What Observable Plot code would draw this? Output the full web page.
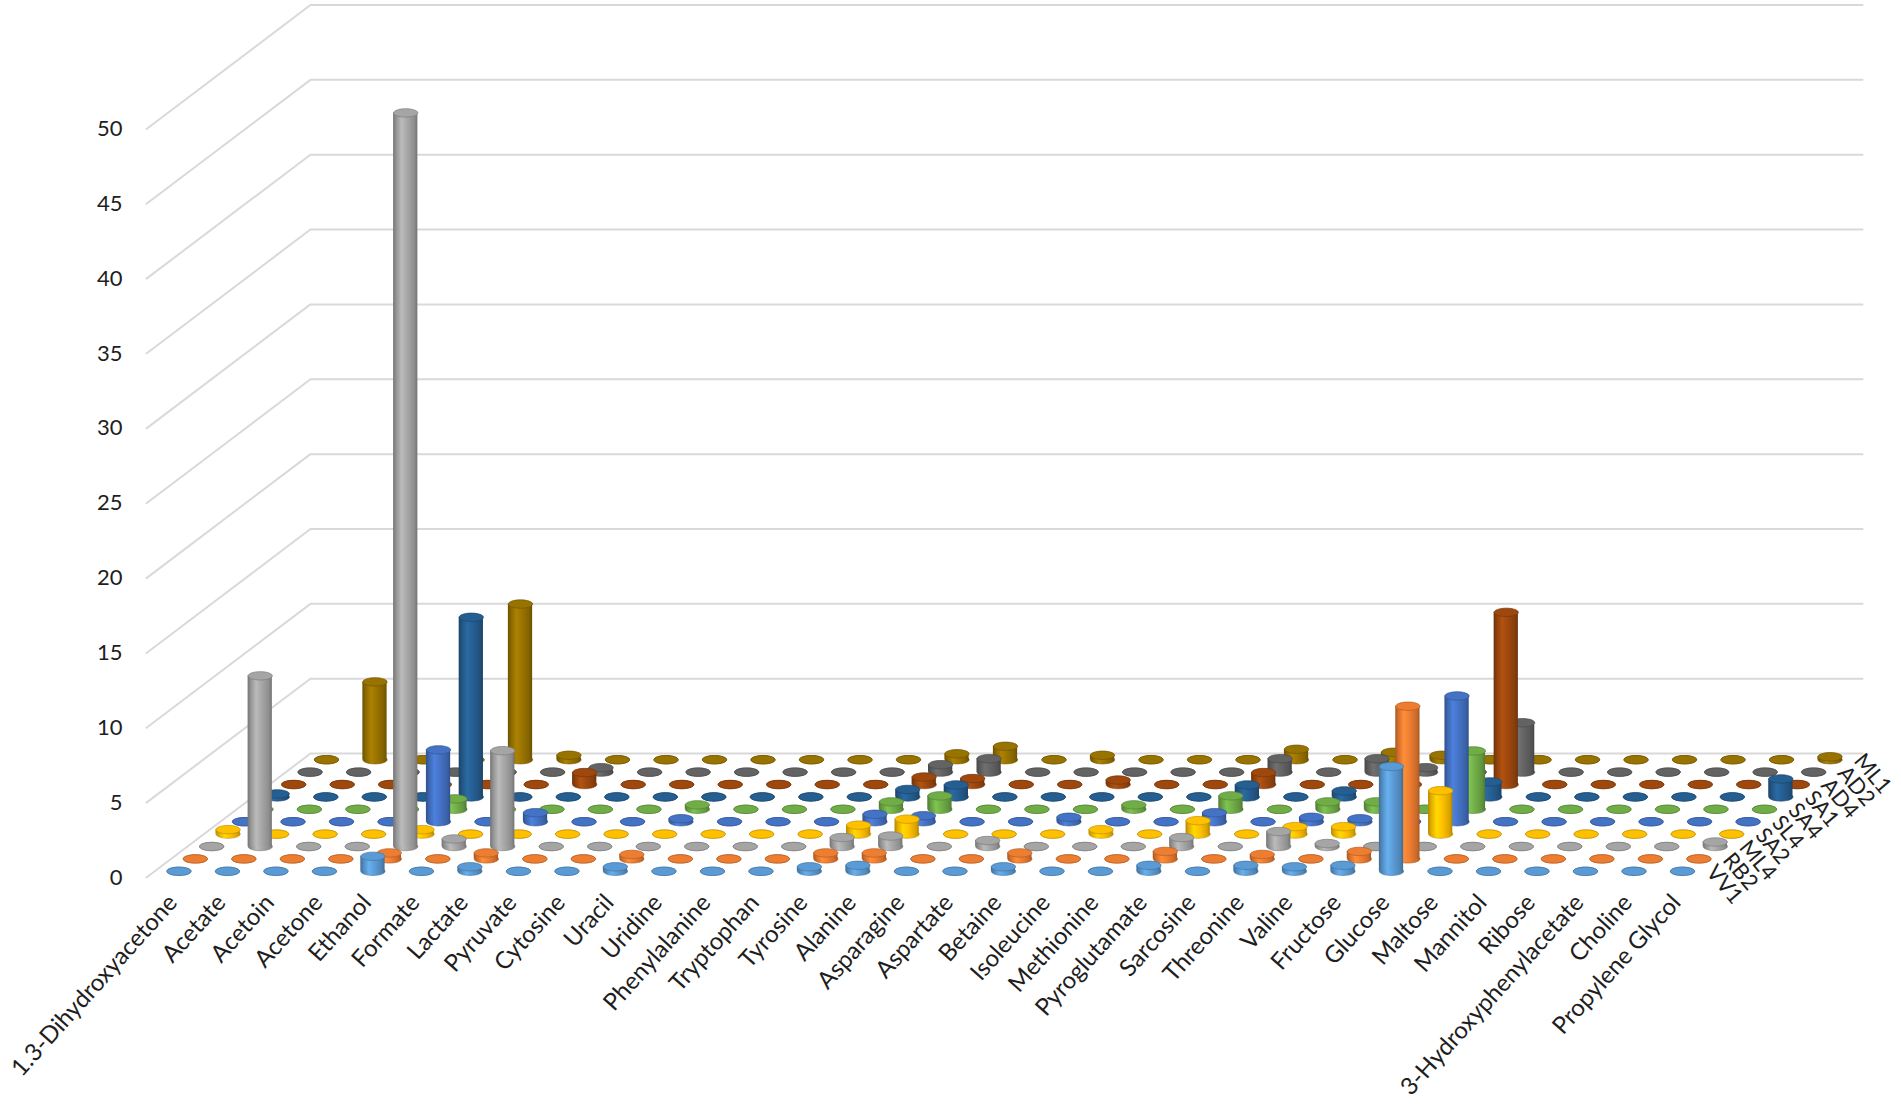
<!DOCTYPE html>
<html><head><meta charset="utf-8">
<script src="https://cdn.jsdelivr.net/npm/d3@7"></script>
<script src="https://cdn.jsdelivr.net/npm/@observablehq/plot@0.6"></script>
<style>
html,body{margin:0;padding:0;background:#fff;}
#chart{width:1901px;height:1114px;overflow:hidden;}
</style></head>
<body><div id="chart"></div>
<script>
// ---------------- data ----------------
const categories = ["1.3-Dihydroxyacetone","Acetate","Acetoin","Acetone","Ethanol","Formate","Lactate","Pyruvate","Cytosine","Uracil","Uridine","Phenylalanine","Tryptophan","Tyrosine","Alanine","Asparagine","Aspartate","Betaine","Isoleucine","Methionine","Pyroglutamate","Sarcosine","Threonine","Valine","Fructose","Glucose","Maltose","Mannitol","Ribose","3-Hydroxyphenylacetate","Choline","Propylene Glycol"];
const seriesNames = ["VV1","RB2","ML4","SA2","SL4","SA4","SA1","AD4","AD2","ML1"];
const seriesColors = ["#5B9BD5","#ED7D31","#A5A5A5","#FFC000","#4472C4","#70AD47","#255E91","#9E480E","#636363","#997300"];
const yTicks = [0,5,10,15,20,25,30,35,40,45,50];

const VV1 = [0,0,0,0,1.0,0,0.3,0,0,0.3,0,0,0,0.3,0.4,0,0,0.3,0,0,0.4,0,0.4,0.3,0.4,7.0,0,0,0,0,0,0];
const RB2 = [0,0,0,0,0.4,0,0.4,0,0,0.3,0,0,0,0.4,0.4,0,0,0.4,0,0,0.5,0,0.3,0,0.5,10.2,0,0,0,0,0,0];
const ML4 = [0,11.4,0,0,49.0,0.5,6.4,0,0,0,0,0,0,0.6,0.7,0,0.4,0,0,0,0.6,0,1.0,0.2,0,0,0,0,0,0,0,0.3];
const SA2 = [0.3,0,0,0,0.3,0,0,0,0,0,0,0,0,0.6,1.0,0,0,0,0.3,0,0.9,0,0.5,0.5,0,2.9,0,0,0,0,0,0];
const SL4 = [0,0,0,0,4.8,0,0.6,0,0,0.2,0,0,0,0.5,0.4,0,0,0.3,0,0,0.6,0,0.3,0.2,0,8.4,0,0,0,0,0,0];
const SA4 = [0,0,0,0,0.7,0,0,0,0,0.3,0,0,0,0.5,0.9,0,0,0,0.3,0,0.9,0,0.5,0.5,0,3.9,0,0,0,0,0,0];
const SA1 = [0.2,0,0,0,12.0,0,0,0,0,0,0,0,0,0.5,0.8,0,0,0,0,0,0.8,0,0.4,0,0,1.0,0,0,0,0,0,1.2];
const AD4 = [0,0,0,0,0,0,0.8,0,0,0,0,0,0,0.5,0.4,0,0,0.3,0,0,0.8,0,0,0,0,11.5,0,0,0,0,0,0];
const AD2 = [0,0,0,0,0,0,0.3,0,0,0,0,0,0,0.5,0.9,0,0,0,0,0,0.9,0,0.9,0.3,0,3.3,0,0,0,0,0,0];
const ML1 = [0,5.2,0,0,10.4,0.3,0,0,0,0,0,0,0,0.4,0.9,0,0.3,0,0,0,0.7,0,0.5,0.3,0,0,0,0,0,0,0,0.2];

// ---------------- layout / projection ----------------
const seriesValues = [VV1, RB2, ML4, SA2, SL4, SA4, SA1, AD4, AD2, ML1];
const W = 1901, H = 1114;
const NC = categories.length, NS = seriesNames.length;
const DX = 3.38;   // depth shift of the floor, in category units
const DY = 8.28;   // depth shift of the floor, in value units
const R = 0.25;    // cylinder radius, category units
const mL = 146, mR = 39, mT = 4.5, mB = 237;
const yMax = d3.max(yTicks);
const pxPerCat = (W - mL - mR) / (NC + DX);
const RX = R * pxPerCat, RY = 4.2;
const K = 0.5523;
const ellipse = {draw(ctx) {
  const rx = RX, ry = RY;
  ctx.moveTo(rx, 0);
  ctx.bezierCurveTo(rx, K*ry, K*rx, ry, 0, ry);
  ctx.bezierCurveTo(-K*rx, ry, -rx, K*ry, -rx, 0);
  ctx.bezierCurveTo(-rx, -K*ry, -K*rx, -ry, 0, -ry);
  ctx.bezierCurveTo(K*rx, -ry, rx, -K*ry, rx, 0);
  ctx.closePath();
}};

const rows = seriesNames.map((s, i) => {
  const f = (i + 0.5) / NS;
  return categories.map((c, j) => ({series: s, category: c, value: seriesValues[i][j], cx: j + 0.5 + DX * f, base: DY * f}));
});

const gridData = yTicks.flatMap(v => [{v, x: 0, y: v}, {v, x: DX, y: v + DY}, {v, x: NC + DX, y: v + DY}]);

const marks = [
  Plot.line(gridData, {x: "x", y: "y", z: "v", stroke: "#d9d9d9", strokeWidth: 2})
];
for (let i = NS - 1; i >= 0; --i) {
  const d = rows[i];
  const col = d3.color(seriesColors[i]);
  const edge = col.darker(0.8).formatHex();
  marks.push(Plot.dot(d, {x: "cx", y: "base", symbol: ellipse, fill: `url(#body${i})`, stroke: edge, strokeWidth: 0.6}));
  marks.push(Plot.rect(d, {x1: e => e.cx - R, x2: e => e.cx + R, y1: "base", y2: e => e.base + e.value, fill: `url(#body${i})`}));
  marks.push(Plot.dot(d, {x: "cx", y: e => e.base + e.value, symbol: ellipse, fill: col.formatHex(), stroke: edge, strokeWidth: 0.7}));
}
const textFill = "#1e1e1e";
marks.push(Plot.text(yTicks, {x: 0, y: v => v, text: v => String(v), textAnchor: "end", dx: -24, fontSize: 22, fill: textFill}));
marks.push(Plot.text(categories, {x: (c, j) => j + 0.5, y: 0, text: c => c, rotate: -48, textAnchor: "end", dy: 21, dx: 2, fontSize: 24, fill: textFill}));
marks.push(Plot.text(seriesNames, {x: (s, i) => NC + DX * (i + 0.5) / NS, y: (s, i) => DY * (i + 0.5) / NS, text: s => s, rotate: 50, textAnchor: "start", dx: 4, dy: -3, fontSize: 22, fill: textFill}));

const svg = Plot.plot({
  width: W, height: H,
  marginLeft: mL, marginRight: mR, marginTop: mT, marginBottom: mB,
  x: {type: "linear", domain: [0, NC + DX], axis: null},
  y: {type: "linear", domain: [0, yMax + DY], axis: null},
  style: {fontFamily: "Lato, 'Open Sans', sans-serif", fontSize: "22px", background: "#fff", overflow: "visible"},
  marks
});

const defs = d3.select(svg).insert("defs", ":first-child");
seriesColors.forEach((c, i) => {
  const col = d3.color(c);
  const g = defs.append("linearGradient").attr("id", `body${i}`).attr("x1", 0).attr("x2", 1).attr("y1", 0).attr("y2", 0);
  [[0, col.darker(1.0)], [0.12, col.darker(0.35)], [0.35, col.brighter(0.35)], [0.6, col], [0.88, col.darker(0.45)], [1, col.darker(1.0)]]
    .forEach(([o, k]) => g.append("stop").attr("offset", o).attr("stop-color", k.formatHex()));
});
document.getElementById("chart").appendChild(svg);
</script>
</body></html>
